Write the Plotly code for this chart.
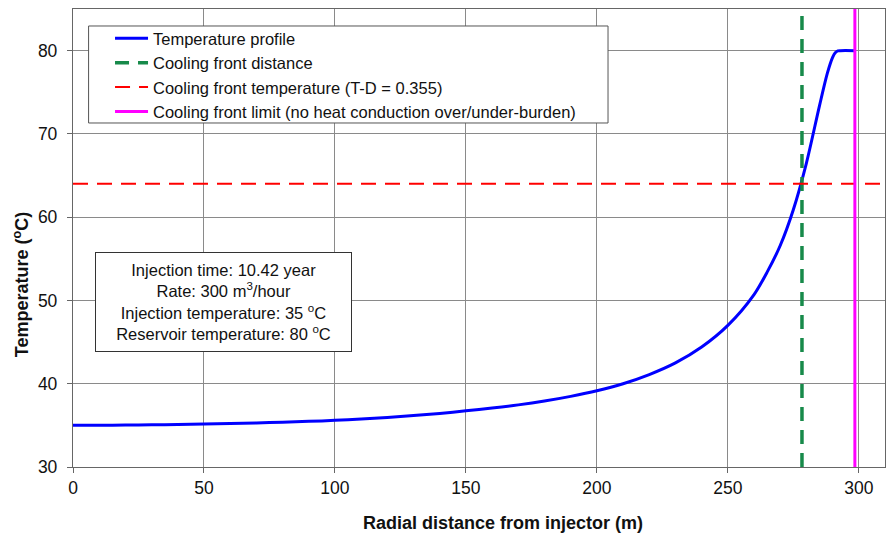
import plotly.graph_objects as go

# Temperature profile
dist = [0, 10, 20, 30, 40, 50, 60, 70, 80, 90, 100, 110, 120, 130, 140, 150, 160, 170, 180, 190,
        200, 210, 220, 230, 240, 250, 260, 265, 270, 275, 280, 285, 288, 290, 291, 292, 293, 298.5]
temp = [35.00, 35.01, 35.03, 35.06, 35.10, 35.15, 35.21, 35.29, 35.38, 35.48, 35.60, 35.76, 35.95,
        36.17, 36.43, 36.75, 37.08, 37.46, 37.92, 38.48, 39.15, 40.0, 41.1, 42.5, 44.4, 47.0, 50.7,
        53.4, 56.6, 60.9, 66.5, 73.4, 77.3, 79.2, 79.75, 79.97, 80.0, 80.0]

front_distance = 278.3
front_temperature = 64.0
front_limit = 298.5
x_range = [0, 310]
y_range = [30, 85]

info_lines = ["Injection time: 10.42 year",
              "Rate: 300 m<sup>3</sup>/hour",
              "Injection temperature: 35 <sup>o</sup>C",
              "Reservoir temperature: 80 <sup>o</sup>C"]

FONT = "Liberation Sans, Arial, sans-serif"
TXT = "#111111"

fig = go.Figure()
fig.add_trace(go.Scatter(x=dist, y=temp, mode="lines", name="Temperature profile",
                         line=dict(color="#0000FF", width=3, shape="spline", smoothing=0.8)))
fig.add_trace(go.Scatter(x=[front_distance, front_distance], y=y_range, mode="lines",
                         name="Cooling front distance",
                         line=dict(color="#178A4A", width=3.5, dash="14px,9px")))
fig.add_trace(go.Scatter(x=x_range, y=[front_temperature, front_temperature], mode="lines",
                         name="Cooling front temperature (T-D = 0.355)",
                         line=dict(color="#FF0000", width=2, dash="15px,9px")))
fig.add_trace(go.Scatter(x=[front_limit, front_limit], y=y_range, mode="lines",
                         name="Cooling front limit (no heat conduction over/under-burden)",
                         line=dict(color="#FF00FF", width=3)))

# info box
fig.add_annotation(xref="x", yref="y", x=57.4, y=49.8, text="<br>".join(info_lines),
                   showarrow=False, align="center", font=dict(family=FONT, size=16.5, color=TXT),
                   bordercolor="#333", borderwidth=1, borderpad=8, bgcolor="white",
                   width=239, height=82, xanchor="center", yanchor="middle")

# axis titles
fig.add_annotation(xref="paper", yref="paper", x=0.529, y=-0.1223,
                   text="<b>Radial distance from injector (m)</b>", showarrow=False,
                   font=dict(family=FONT, size=18, color=TXT), xanchor="center", yanchor="middle")
fig.add_annotation(xref="paper", yref="paper", x=-0.064, y=0.397,
                   text="<b>Temperature (<sup>o</sup>C)</b>", showarrow=False, textangle=-90,
                   font=dict(family=FONT, size=18, color=TXT), xanchor="center", yanchor="middle")

# legend frame
fig.add_shape(type="rect", xref="paper", yref="paper", x0=0.0192, x1=0.6589, y0=0.7511, y1=0.9629,
              line=dict(color="#555", width=1), fillcolor="white", layer="above")

fig.update_layout(
    width=887, height=535,
    margin=dict(l=73, r=2, t=9, b=68),
    paper_bgcolor="white", plot_bgcolor="white",
    font=dict(family=FONT, size=16, color=TXT),
    showlegend=True,
    legend=dict(x=0.0456, y=0.9738, xanchor="left", yanchor="top",
                bgcolor="rgba(0,0,0,0)", borderwidth=0,
                font=dict(family=FONT, size=16.5, color=TXT),
                itemwidth=33, tracegroupgap=0),
    xaxis=dict(range=x_range, dtick=50, tick0=0, showgrid=True, gridcolor="#8a8a8a", gridwidth=1.3,
               showline=True, linecolor="#666", linewidth=1.3, mirror=True,
               ticks="outside", ticklen=5, tickcolor="#666", zeroline=False,
               tickfont=dict(size=17.5)),
    yaxis=dict(range=y_range, tickvals=[30, 40, 50, 60, 70, 80], showgrid=True, gridcolor="#8a8a8a",
               gridwidth=1.3, showline=True, linecolor="#666", linewidth=1.3, mirror=True,
               ticks="outside", ticklen=5, tickcolor="#666", zeroline=False,
               tickfont=dict(size=17.5), ticklabelstandoff=6),
)

fig.write_html("out.html")
